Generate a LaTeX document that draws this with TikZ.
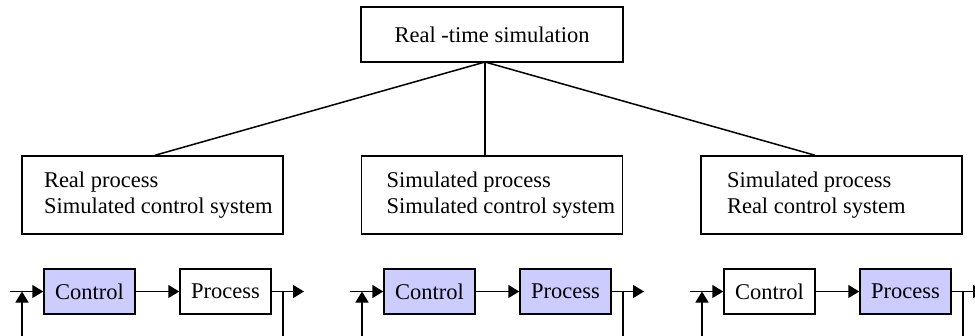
\documentclass[tikz,border=0pt]{standalone}
\usepackage{fontspec}
\setmainfont{Liberation Serif}
\usetikzlibrary{arrows.meta}
\definecolor{simfill}{RGB}{204,204,255}
\begin{document}
\begin{tikzpicture}[x=1pt,y=-1pt,
  every node/.style={font=\fontsize{22.5pt}{26pt}\selectfont},
  box/.style={draw, line width=1.5pt, inner sep=0pt},
  topbox/.style={box, minimum width=262pt, minimum height=55pt},
  modebox/.style={box, minimum width=261pt, minimum height=78pt},
  blk/.style={box, minimum width=91pt, minimum height=45pt},
  conn/.style={line width=1.5pt},
  sig/.style={line width=1.5pt, -{Triangle[length=11pt,width=13pt]}},
]
\useasboundingbox (0,0) rectangle (975,335);
\clip (0,0) rectangle (975,335);

\node[topbox] (top) at (492,34.5) {Real -time simulation};
\coordinate (j) at (485,62);

\node[modebox] (m1) at (152.5,195) {\hspace*{22pt}\parbox[c]{239pt}{\raggedright Real process\\Simulated control system}};
\node[modebox] (m2) at (492,195) {\hspace*{25pt}\parbox[c]{236pt}{\raggedright Simulated process\\Simulated control system}};
\node[modebox] (m3) at (831.5,195) {\hspace*{26pt}\parbox[c]{235pt}{\raggedright Simulated process\\Real control system}};

\draw[conn] (j) -- ([xshift=2.5pt]m1.north);
\draw[conn] (j) -- ([xshift=-7pt]m2.north);
\draw[conn] (j) -- ([xshift=-16.5pt]m3.north);

\foreach \o/\cf/\pf/\i in {0/simfill/white/a,340/simfill/simfill/b,680/white/simfill/c} {
  \node[blk, fill=\cf] (c\i) at (89.5+\o, 291.5) {Control};
  \node[blk, fill=\pf] (p\i) at (225.5+\o, 291.5) {Process};
  \coordinate (in\i) at (10+\o, 291.5);
  \coordinate (br\i) at (283+\o, 291.5);
  \coordinate (out\i) at (304+\o, 291.5);
  \coordinate (fb\i) at (22+\o, 345);
  \coordinate (fbt\i) at (22+\o, 291.5);
  \coordinate (dn\i) at (283+\o, 345);
  \draw[sig] (in\i) -- (c\i);
  \draw[sig] (c\i) -- (p\i);
  \draw[sig] (p\i) -- (out\i);
  \draw[conn] (br\i) -- (dn\i);
  \draw[sig] (fb\i) -- (fbt\i);
}
\end{tikzpicture}
\end{document}
